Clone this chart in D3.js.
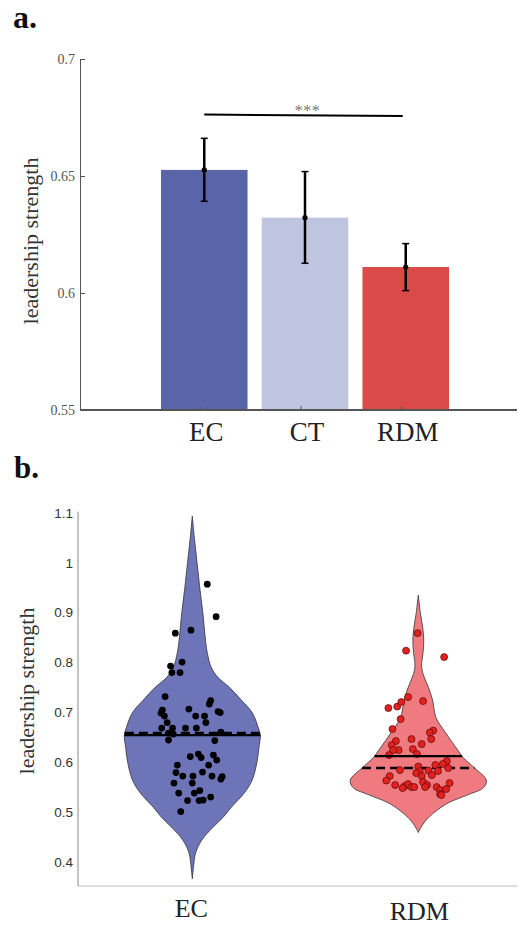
<!DOCTYPE html>
<html>
<head>
<meta charset="utf-8">
<script src="https://cdn.jsdelivr.net/npm/d3@7"></script>
<style>
  body { margin: 0; background: #fff; }
  svg { display: block; }
</style>
</head>
<body>
<div id="chart"></div>
<script>
// ---- panel a data: bar means with error bars
var groupsA = ["EC", "CT", "RDM"];
var meansA = [0.6526, 0.6322, 0.6111];
var errLowA = [0.6392, 0.6127, 0.6010];
var errHighA = [0.6661, 0.6519, 0.6211];
var ticksA = [0.55, 0.6, 0.65, 0.7];
var sigLevel = 0.676;
var sigText = "***";

// ---- panel b data: violin outlines (value, relative half width) and points
var groupsB = ["EC", "RDM"];
var ticksB = [0.4, 0.5, 0.6, 0.7, 0.8, 0.9, 1, 1.1];

var ecLevels = [1.093, 1.05, 1.0, 0.95, 0.9, 0.85, 0.82, 0.79, 0.77, 0.75, 0.725, 0.70, 0.67, 0.655, 0.63, 0.60, 0.565, 0.54, 0.51, 0.49, 0.47, 0.445, 0.42, 0.40, 0.367];
var ecWidths = [0, 0.03, 0.07, 0.11, 0.155, 0.19, 0.22, 0.28, 0.38, 0.55, 0.72, 0.88, 0.97, 1.0, 0.98, 0.95, 0.88, 0.77, 0.57, 0.45, 0.30, 0.14, 0.05, 0.025, 0];

var rdmLevels = [0.935, 0.90, 0.87, 0.845, 0.82, 0.80, 0.785, 0.77, 0.75, 0.725, 0.69, 0.66, 0.625, 0.61, 0.59, 0.565, 0.55, 0.535, 0.52, 0.505, 0.49, 0.475, 0.46];
var rdmWidths = [0, 0.03, 0.065, 0.08, 0.07, 0.05, 0.055, 0.09, 0.15, 0.21, 0.26, 0.40, 0.58, 0.66, 0.82, 1.0, 0.96, 0.72, 0.45, 0.28, 0.15, 0.06, 0];

var ecMean = 0.655, ecMedian = 0.659;
var rdmMean = 0.613, rdmMedian = 0.589;

var ecValues = [0.957, 0.892, 0.859, 0.865, 0.801, 0.793, 0.780, 0.780, 0.732, 0.724, 0.717, 0.705, 0.699, 0.693, 0.707, 0.693, 0.693, 0.702, 0.700, 0.680, 0.680, 0.669, 0.669, 0.669, 0.669, 0.659, 0.657, 0.661, 0.645, 0.644, 0.612, 0.617, 0.610, 0.615, 0.605, 0.595, 0.595, 0.580, 0.581, 0.573, 0.573, 0.573, 0.572, 0.567, 0.559, 0.559, 0.539, 0.539, 0.544, 0.524, 0.524, 0.525, 0.531, 0.502];
var ecJitter = [0.22, 0.35, -0.25, -0.02, -0.15, -0.32, -0.30, -0.18, -0.40, 0.27, 0.25, -0.44, -0.46, -0.41, -0.05, 0.05, 0.18, 0.38, 0.41, 0.20, -0.37, -0.45, -0.29, -0.10, 0.06, -0.35, -0.28, 0.42, -0.35, 0.33, -0.03, 0.09, 0.13, 0.31, 0.36, -0.22, 0.24, -0.24, 0.15, -0.14, 0.01, 0.29, 0.44, 0.42, -0.27, 0.00, -0.20, 0.03, 0.11, -0.07, 0.10, 0.16, 0.27, -0.17];

var rdmValues = [0.859, 0.824, 0.811, 0.709, 0.712, 0.721, 0.731, 0.723, 0.687, 0.667, 0.664, 0.660, 0.647, 0.647, 0.643, 0.635, 0.637, 0.627, 0.617, 0.625, 0.625, 0.615, 0.603, 0.597, 0.595, 0.584, 0.575, 0.583, 0.589, 0.592, 0.583, 0.579, 0.585, 0.573, 0.573, 0.564, 0.555, 0.553, 0.557, 0.551, 0.549, 0.551, 0.561, 0.555, 0.551, 0.551, 0.545, 0.537, 0.547, 0.559, 0.535];
var rdmJitter = [-0.01, -0.18, 0.38, -0.44, -0.31, -0.25, -0.15, 0.07, -0.26, -0.38, 0.22, 0.17, 0.19, -0.10, -0.33, -0.39, 0.05, -0.08, -0.02, -0.29, -0.37, -0.43, 0.42, 0.36, 0.25, 0.15, 0.20, 0.29, 0.44, 0.00, 0.02, -0.03, -0.27, 0.05, -0.42, -0.47, -0.34, -0.20, -0.15, -0.10, -0.23, -0.06, 0.07, 0.13, 0.10, 0.27, 0.32, 0.32, 0.41, 0.46, 0.34];

var colorsA = ["#5a64a8", "#bfc5df", "#d94a48"];
var violinFill = ["#6e74b8", "#ef7b80"];

var W = 518, H = 926;
var serif = "'Liberation Serif', 'Times New Roman', serif";
var sans = "'Liberation Sans', Arial, sans-serif";

var svg = d3.select("#chart").append("svg")
    .attr("width", W)
    .attr("height", H);

// panel labels
svg.append("text").attr("x", 13).attr("y", 28).text("a.")
    .style("font-family", serif).style("font-weight", "bold").style("font-size", "32px").style("fill", "#111");
svg.append("text").attr("x", 14).attr("y", 478).text("b.")
    .style("font-family", serif).style("font-weight", "bold").style("font-size", "31px").style("fill", "#111");

/* ================= panel a ================= */
var yA = d3.scaleLinear().domain([0.55, 0.7]).range([410, 59]);
var xA = d3.scaleBand().domain(groupsA).range([153.9, 456.1]).paddingInner(0.141).paddingOuter(0.0705);

var gA = svg.append("g");

gA.selectAll("rect.bar")
    .data(groupsA)
    .enter().append("rect")
    .attr("class", "bar")
    .attr("x", function(d){ return xA(d); })
    .attr("width", xA.bandwidth())
    .attr("y", function(d, i){ return yA(meansA[i]); })
    .attr("height", function(d, i){ return yA(0.55) - yA(meansA[i]); })
    .style("fill", function(d, i){ return colorsA[i]; });

// y axis
var axA = gA.append("g")
    .attr("transform", "translate(80,0)")
    .call(d3.axisLeft(yA).tickValues(ticksA).tickSizeInner(-5).tickSizeOuter(0).tickPadding(5)
        .tickFormat(function(d){ return String(+d.toFixed(2)); }));
axA.select(".domain").style("stroke", "#555").style("stroke-width", 1);
axA.selectAll(".tick line").style("stroke", "#555");
axA.selectAll(".tick text").style("font-family", serif).style("font-size", "14px").style("fill", "#555");

// x axis
gA.append("line")
    .attr("x1", 80).attr("x2", 517)
    .attr("y1", yA(0.55)).attr("y2", yA(0.55))
    .style("stroke", "#555").style("stroke-width", 2);
gA.selectAll("line.xtick")
    .data(groupsA)
    .enter().append("line")
    .attr("class", "xtick")
    .attr("x1", function(d){ return xA(d) + xA.bandwidth() / 2 - 4; })
    .attr("x2", function(d){ return xA(d) + xA.bandwidth() / 2 - 4; })
    .attr("y1", yA(0.55)).attr("y2", yA(0.55) - 4)
    .style("stroke", "#555").style("stroke-width", 1);
gA.selectAll("text.xlab")
    .data(groupsA)
    .enter().append("text")
    .attr("class", "xlab")
    .attr("x", function(d){ return xA(d) + xA.bandwidth() / 2 + 2; })
    .attr("y", 441)
    .attr("text-anchor", "middle")
    .text(function(d){ return d; })
    .style("font-family", serif).style("font-size", "27px").style("fill", "#222");

// error bars
groupsA.forEach(function(g, i){
    var cx = xA(g) + xA.bandwidth() / 2;
    gA.append("line")
        .attr("x1", cx).attr("x2", cx)
        .attr("y1", yA(errLowA[i])).attr("y2", yA(errHighA[i]))
        .style("stroke", "#000").style("stroke-width", 2.5);
    [errLowA[i], errHighA[i]].forEach(function(v){
        gA.append("line")
            .attr("x1", cx - 3.5).attr("x2", cx + 3.5)
            .attr("y1", yA(v)).attr("y2", yA(v))
            .style("stroke", "#000").style("stroke-width", 1.5);
    });
    gA.append("circle").attr("cx", cx).attr("cy", yA(meansA[i])).attr("r", 2.6).style("fill", "#000");
});

// significance bar
var sigX1 = xA("EC") + xA.bandwidth() / 2;
var sigX2 = xA("RDM") + xA.bandwidth() / 2 - 3;
gA.append("line")
    .attr("x1", sigX1).attr("x2", sigX2)
    .attr("y1", yA(sigLevel) - 0.6).attr("y2", yA(sigLevel) + 0.8)
    .style("stroke", "#000").style("stroke-width", 2);
gA.append("text")
    .attr("x", (sigX1 + sigX2) / 2 + 4)
    .attr("y", yA(sigLevel) + 1)
    .attr("text-anchor", "middle")
    .text(sigText)
    .style("font-family", serif).style("font-size", "16px").style("letter-spacing", "0.5px").style("fill", "#777");

// y label
gA.append("text")
    .attr("transform", "translate(38,241) rotate(-90)")
    .attr("text-anchor", "middle")
    .text("leadership strength")
    .style("font-family", serif).style("font-size", "22px").style("fill", "#333");

/* ================= panel b ================= */
var yB = d3.scaleLinear().domain([0.353, 1.1]).range([886, 512.7]);
var xB = d3.scalePoint().domain(groupsB).range([192.3, 418.3]);
var wB = d3.scaleLinear().domain([0, 1]).range([0, 68]);

var gB = svg.append("g");

var axB = gB.append("g")
    .attr("transform", "translate(78,0)")
    .call(d3.axisLeft(yB).tickValues(ticksB).tickSize(0).tickPadding(5)
        .tickFormat(function(d){ return String(+d.toFixed(1)); }));
axB.select(".domain").remove();
axB.selectAll(".tick text").style("font-family", sans).style("font-size", "13.5px").style("fill", "#333");
gB.append("line")
    .attr("x1", 78).attr("x2", 78).attr("y1", 511.7).attr("y2", 886)
    .style("stroke", "#888").style("stroke-width", 1);
gB.append("line")
    .attr("x1", 78).attr("x2", 517).attr("y1", 886).attr("y2", 886)
    .style("stroke", "#bbb").style("stroke-width", 1.2);

var violins = [
    { name: "EC", levels: ecLevels, widths: ecWidths, mean: ecMean, median: ecMedian, values: ecValues, jitter: ecJitter },
    { name: "RDM", levels: rdmLevels, widths: rdmWidths, mean: rdmMean, median: rdmMedian, values: rdmValues, jitter: rdmJitter }
];

violins.forEach(function(v, k){
    var cx = xB(v.name);
    var prof = v.levels.map(function(l, i){ return { v: l, w: v.widths[i] }; });
    var area = d3.area()
        .y(function(d){ return yB(d.v); })
        .x0(function(d){ return cx - wB(d.w); })
        .x1(function(d){ return cx + wB(d.w); })
        .curve(d3.curveCatmullRom.alpha(0.5));
    gB.append("path")
        .datum(prof)
        .attr("d", area)
        .style("fill", violinFill[k])
        .style("stroke", "#333").style("stroke-width", 0.8);

    var widthAt = d3.scaleLinear().domain(v.levels).range(v.widths);

    gB.append("line")
        .attr("x1", cx - wB(widthAt(v.median))).attr("x2", cx + wB(widthAt(v.median)))
        .attr("y1", yB(v.median)).attr("y2", yB(v.median))
        .style("stroke", "#000").style("stroke-width", 2.5).style("stroke-dasharray", "9,5");

    var pts = v.values.map(function(val, i){ return { v: val, j: v.jitter[i] }; });
    gB.selectAll("circle.p" + k)
        .data(pts)
        .enter().append("circle")
        .attr("class", "p" + k)
        .attr("cx", function(d){ return cx + wB(d.j); })
        .attr("cy", function(d){ return yB(d.v); })
        .attr("r", k === 0 ? 3.4 : 3.5)
        .style("fill", k === 0 ? "#000" : "#e3201e")
        .style("stroke", k === 0 ? "none" : "#5a0a0a")
        .style("stroke-width", 0.7);

    gB.append("line")
        .attr("x1", cx - wB(widthAt(v.mean))).attr("x2", cx + wB(widthAt(v.mean)))
        .attr("y1", yB(v.mean)).attr("y2", yB(v.mean))
        .style("stroke", "#000").style("stroke-width", 2.2);
});

gB.selectAll("text.xlabB")
    .data(groupsB)
    .enter().append("text")
    .attr("class", "xlabB")
    .attr("x", function(d){ return xB(d) - (d === "EC" ? 1 : -1); })
    .attr("y", function(d){ return d === "EC" ? 917 : 920; })
    .attr("text-anchor", "middle")
    .text(function(d){ return d; })
    .style("font-family", serif).style("font-size", "26px").style("fill", "#222");

gB.append("text")
    .attr("transform", "translate(34,691) rotate(-90)")
    .attr("text-anchor", "middle")
    .text("leadership strength")
    .style("font-family", serif).style("font-size", "22px").style("fill", "#333");
</script>
</body>
</html>
